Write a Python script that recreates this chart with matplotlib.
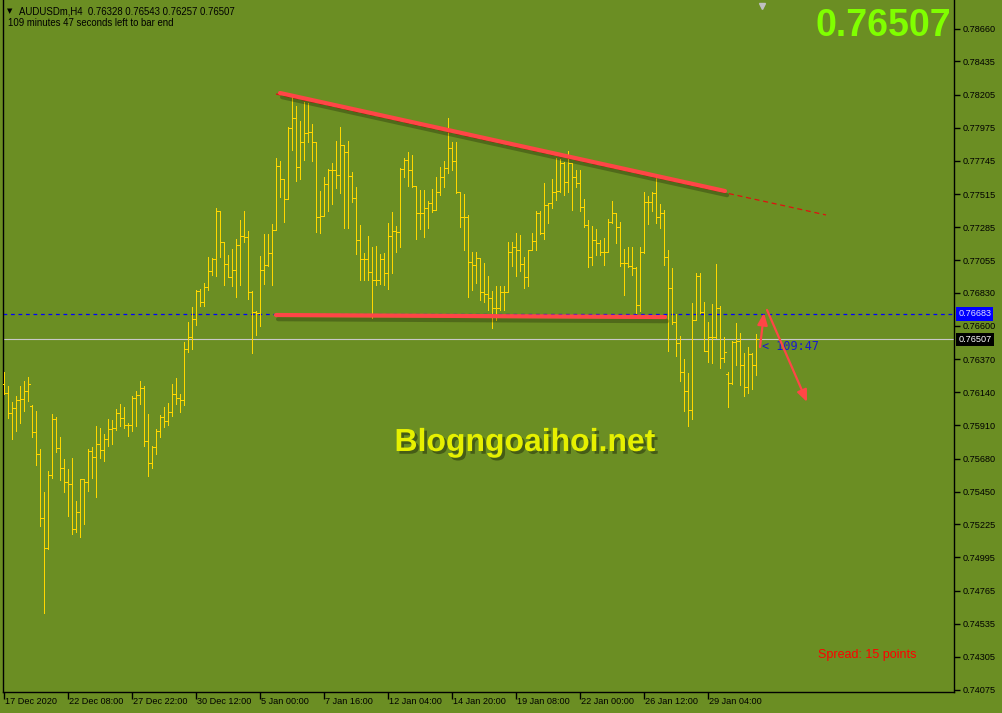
import numpy as np
import matplotlib
matplotlib.use("Agg")
import matplotlib.pyplot as plt
import matplotlib.patheffects as pe
from matplotlib.collections import LineCollection

# ---- data (AUDUSDm, H4) -------------------------------------------------
opens = [
    0.76200, 0.76135, 0.75996, 0.76031, 0.76086, 0.76093, 0.76149, 0.76045, 0.75864, 0.75712,
    0.75268, 0.75060, 0.75566, 0.75955, 0.75753, 0.75615, 0.75518, 0.75504, 0.75192, 0.75310,
    0.75538, 0.75518, 0.75733, 0.75691, 0.75781, 0.75740, 0.75816, 0.75885, 0.75892, 0.75996,
    0.75962, 0.75913, 0.75913, 0.76100, 0.76121, 0.76170, 0.75802, 0.75649, 0.75760, 0.75871,
    0.75969, 0.75941, 0.76003, 0.76128, 0.76100, 0.76086, 0.76440, 0.76523, 0.76648, 0.76843,
    0.76766, 0.76870, 0.76981, 0.77064, 0.77397, 0.77182, 0.77030, 0.76940, 0.76988, 0.77162,
    0.77224, 0.77217, 0.76836, 0.76697, 0.76690, 0.76988, 0.77023, 0.77106, 0.77266, 0.77710,
    0.77619, 0.77481, 0.77973, 0.78043, 0.77703, 0.77876, 0.77938, 0.77945, 0.77876, 0.77356,
    0.77363, 0.77585, 0.77682, 0.77682, 0.77647, 0.77855, 0.77807, 0.77640, 0.77488, 0.77196,
    0.77064, 0.77064, 0.76974, 0.76919, 0.76919, 0.77064, 0.76967, 0.77224, 0.77259, 0.77252,
    0.77689, 0.77751, 0.77682, 0.77571, 0.77384, 0.77384, 0.77418, 0.77453, 0.77404, 0.77529,
    0.77633, 0.77696, 0.77834, 0.77744, 0.77530, 0.77356, 0.77356, 0.77044, 0.77023, 0.77071,
    0.76836, 0.76822, 0.76794, 0.76725, 0.76725, 0.76836, 0.76836, 0.77113, 0.77148, 0.77127,
    0.77030, 0.76940, 0.77127, 0.77189, 0.77384, 0.77245, 0.77439, 0.77453, 0.77529, 0.77536,
    0.77730, 0.77599, 0.77730, 0.77633, 0.77592, 0.77425, 0.77300, 0.77078, 0.77196, 0.77175,
    0.77113, 0.77113, 0.77321, 0.77384, 0.77286, 0.77037, 0.77037, 0.77016, 0.77002, 0.76745,
    0.77113, 0.77460, 0.77460, 0.77522, 0.77356, 0.77384, 0.77078, 0.76863, 0.76627, 0.76482,
    0.76281, 0.76149, 0.76017, 0.76641, 0.76947, 0.76697, 0.76426, 0.76523, 0.76523, 0.76725,
    0.76378, 0.76270, 0.76204, 0.76489, 0.76496, 0.76329, 0.76177, 0.76405, 0.76328,
]
highs = [
    0.76281, 0.76184, 0.76073, 0.76114, 0.76184, 0.76218, 0.76246, 0.76052, 0.76010, 0.75747,
    0.75448, 0.75594, 0.75989, 0.75969, 0.75830, 0.75677, 0.75608, 0.75684, 0.75386, 0.75538,
    0.75538, 0.75747, 0.75760, 0.75906, 0.75892, 0.75851, 0.75955, 0.75948, 0.76024, 0.76059,
    0.76038, 0.75927, 0.76114, 0.76149, 0.76218, 0.76184, 0.75989, 0.75767, 0.75885, 0.75982,
    0.76038, 0.76066, 0.76197, 0.76239, 0.76128, 0.76489, 0.76627, 0.76732, 0.76849, 0.76856,
    0.76898, 0.77078, 0.77071, 0.77418, 0.77397, 0.77182, 0.77092, 0.77134, 0.77203, 0.77335,
    0.77397, 0.77259, 0.76843, 0.76704, 0.77085, 0.77238, 0.77238, 0.77307, 0.77765, 0.77744,
    0.77619, 0.77980, 0.78188, 0.78126, 0.78022, 0.78154, 0.78147, 0.78001, 0.77876, 0.77536,
    0.77633, 0.77689, 0.77730, 0.77883, 0.77980, 0.77855, 0.77883, 0.77668, 0.77564, 0.77300,
    0.77106, 0.77224, 0.77148, 0.77155, 0.77099, 0.77106, 0.77314, 0.77390, 0.77293, 0.77696,
    0.77765, 0.77807, 0.77786, 0.77571, 0.77543, 0.77543, 0.77467, 0.77550, 0.77633, 0.77703,
    0.77744, 0.78043, 0.77876, 0.77876, 0.77530, 0.77515, 0.77370, 0.77113, 0.77113, 0.77071,
    0.77037, 0.76947, 0.76843, 0.76877, 0.76877, 0.76877, 0.77182, 0.77182, 0.77245, 0.77231,
    0.77078, 0.77127, 0.77245, 0.77397, 0.77397, 0.77592, 0.77453, 0.77619, 0.77765, 0.77758,
    0.77737, 0.77814, 0.77730, 0.77682, 0.77682, 0.77481, 0.77335, 0.77293, 0.77273, 0.77196,
    0.77210, 0.77342, 0.77467, 0.77384, 0.77321, 0.77134, 0.77148, 0.77148, 0.77009, 0.77148,
    0.77529, 0.77501, 0.77529, 0.77633, 0.77446, 0.77404, 0.77127, 0.77002, 0.76683, 0.76530,
    0.76371, 0.76274, 0.76759, 0.76967, 0.76967, 0.76766, 0.76627, 0.76752, 0.77030, 0.76738,
    0.76523, 0.76281, 0.76496, 0.76621, 0.76551, 0.76412, 0.76454, 0.76412, 0.76543,
]
lows = [
    0.76128, 0.75962, 0.75816, 0.75871, 0.75927, 0.76010, 0.76080, 0.75830, 0.75636, 0.75212,
    0.74609, 0.75053, 0.75545, 0.75726, 0.75532, 0.75448, 0.75282, 0.75157, 0.75171, 0.75136,
    0.75226, 0.75455, 0.75545, 0.75414, 0.75684, 0.75663, 0.75767, 0.75781, 0.75878, 0.75906,
    0.75892, 0.75837, 0.75871, 0.75906, 0.76059, 0.75767, 0.75559, 0.75615, 0.75712, 0.75830,
    0.75899, 0.75913, 0.75975, 0.76059, 0.76003, 0.76052, 0.76419, 0.76440, 0.76607, 0.76738,
    0.76738, 0.76849, 0.76954, 0.76947, 0.77078, 0.76884, 0.76940, 0.76877, 0.76801, 0.76884,
    0.77182, 0.76787, 0.76412, 0.76537, 0.76600, 0.76891, 0.77016, 0.76884, 0.77266, 0.77495,
    0.77321, 0.77481, 0.77821, 0.77606, 0.77619, 0.77751, 0.77876, 0.77744, 0.77252, 0.77245,
    0.77363, 0.77397, 0.77446, 0.77557, 0.77522, 0.77280, 0.77280, 0.77460, 0.77099, 0.76919,
    0.76919, 0.76919, 0.76655, 0.76884, 0.76891, 0.76884, 0.76856, 0.76967, 0.77113, 0.77148,
    0.77633, 0.77571, 0.77564, 0.77203, 0.77273, 0.77217, 0.77280, 0.77390, 0.77404, 0.77508,
    0.77564, 0.77661, 0.77682, 0.77522, 0.77286, 0.77127, 0.76801, 0.76849, 0.76898, 0.76780,
    0.76766, 0.76711, 0.76586, 0.76641, 0.76711, 0.76711, 0.76836, 0.77016, 0.76947, 0.76981,
    0.76863, 0.76877, 0.77127, 0.77127, 0.77238, 0.77203, 0.77314, 0.77418, 0.77474, 0.77529,
    0.77508, 0.77529, 0.77404, 0.77564, 0.77397, 0.77286, 0.77009, 0.77023, 0.77092, 0.77092,
    0.77023, 0.77113, 0.77314, 0.77175, 0.77016, 0.76815, 0.77009, 0.76954, 0.76690, 0.76704,
    0.77106, 0.77307, 0.77397, 0.77314, 0.77280, 0.77023, 0.76426, 0.76614, 0.76392, 0.76218,
    0.76010, 0.75906, 0.75955, 0.76641, 0.76690, 0.76426, 0.76350, 0.76343, 0.76517, 0.76308,
    0.76350, 0.76038, 0.76197, 0.76329, 0.76190, 0.76114, 0.76135, 0.76163, 0.76257,
]
closes = [
    0.76135, 0.75996, 0.76031, 0.76086, 0.76093, 0.76149, 0.76197, 0.75864, 0.75712, 0.75268,
    0.75060, 0.75566, 0.75955, 0.75753, 0.75615, 0.75518, 0.75504, 0.75192, 0.75310, 0.75538,
    0.75518, 0.75733, 0.75691, 0.75781, 0.75740, 0.75816, 0.75885, 0.75892, 0.75996, 0.75962,
    0.75913, 0.75913, 0.76100, 0.76121, 0.76170, 0.75802, 0.75649, 0.75760, 0.75871, 0.75969,
    0.75941, 0.76003, 0.76128, 0.76100, 0.76086, 0.76440, 0.76523, 0.76648, 0.76843, 0.76766,
    0.76870, 0.76981, 0.77064, 0.77397, 0.77182, 0.77030, 0.76940, 0.76988, 0.77162, 0.77224,
    0.77217, 0.76836, 0.76697, 0.76690, 0.76988, 0.77023, 0.77106, 0.77266, 0.77710, 0.77619,
    0.77481, 0.77973, 0.78043, 0.77703, 0.77876, 0.77938, 0.77945, 0.77876, 0.77356, 0.77363,
    0.77585, 0.77682, 0.77682, 0.77647, 0.77855, 0.77807, 0.77640, 0.77488, 0.77196, 0.77064,
    0.77064, 0.76974, 0.76919, 0.76919, 0.77064, 0.76967, 0.77224, 0.77259, 0.77252, 0.77689,
    0.77751, 0.77682, 0.77571, 0.77384, 0.77384, 0.77418, 0.77453, 0.77404, 0.77529, 0.77633,
    0.77696, 0.77834, 0.77744, 0.77530, 0.77356, 0.77356, 0.77044, 0.77023, 0.77071, 0.76836,
    0.76822, 0.76794, 0.76725, 0.76725, 0.76836, 0.76836, 0.77113, 0.77148, 0.77127, 0.77030,
    0.76940, 0.77127, 0.77189, 0.77384, 0.77245, 0.77439, 0.77453, 0.77529, 0.77536, 0.77730,
    0.77599, 0.77730, 0.77633, 0.77592, 0.77425, 0.77300, 0.77078, 0.77196, 0.77175, 0.77113,
    0.77113, 0.77321, 0.77384, 0.77286, 0.77037, 0.77037, 0.77016, 0.77002, 0.76745, 0.77113,
    0.77460, 0.77460, 0.77522, 0.77356, 0.77384, 0.77078, 0.76863, 0.76627, 0.76482, 0.76281,
    0.76149, 0.76017, 0.76641, 0.76947, 0.76697, 0.76426, 0.76523, 0.76523, 0.76725, 0.76378,
    0.76419, 0.76204, 0.76489, 0.76496, 0.76329, 0.76177, 0.76405, 0.76328, 0.76507,
]

price_ticks = [0.78660, 0.78435, 0.78205, 0.77975, 0.77745, 0.77515, 0.77285, 0.77055,
               0.76830, 0.76600, 0.76370, 0.76140, 0.75910, 0.75680, 0.75450, 0.75225,
               0.74995, 0.74765, 0.74535, 0.74305, 0.74075]
date_tick_bars = [0, 16, 32, 48, 64, 80, 96, 112, 128, 144, 160, 176]
date_labels = ["17 Dec 2020", "22 Dec 08:00", "27 Dec 22:00", "30 Dec 12:00",
               "5 Jan 00:00", "7 Jan 16:00", "12 Jan 04:00", "14 Jan 20:00",
               "19 Jan 08:00", "22 Jan 00:00", "26 Jan 12:00", "29 Jan 04:00"]

bid = 0.76507
alert = 0.76683
# hand-drawn objects: (bar, price) end points
upper_trend = [(69, 0.78216), (180.25, 0.77536)]
upper_ray = [(68, 0.78209), (205.5, 0.77370)]
lower_trend = [(68, 0.76676), (165.25, 0.76662)]
arrow_up = [(189, 0.76454), (190, 0.76690)]
arrow_down = [(190.75, 0.76711), (200.75, 0.76073)]

# ---- figure --------------------------------------------------------------
BG = "#6B8E23"
FONT = "Liberation Sans"
W, H = 1002, 713
fig = plt.figure(figsize=(W / 100, H / 100), dpi=100, facecolor=BG)
ax = fig.add_axes([3 / W, 21 / H, 951 / W, 692 / H])
ax.set_facecolor(BG)
ax.set_xlim(-0.25, 237.5)
ax.set_ylim(0.74061, 0.78861)

x = np.arange(len(closes))
segs = []
for i, o, h, l, c in zip(x, opens, highs, lows, closes):
    segs.append([(i, l), (i, h)])
    segs.append([(i - 0.5, o), (i, o)])
    segs.append([(i, c), (i + 0.5, c)])
ax.add_collection(LineCollection(segs, colors="#FFD700", linewidths=0.72,
                                 antialiaseds=False, zorder=3))

ax.axhline(alert, color="#0000FF", lw=0.9, ls=(0, (3, 3)), zorder=2)
ax.axhline(bid, color="#C8C8C8", lw=0.8, zorder=2)

shadow = [pe.SimpleLineShadow(offset=(1.5, -3), shadow_color="k", alpha=0.25), pe.Normal()]
xs, ys = zip(*upper_ray)
ax.plot(xs, ys, color="#E01010", lw=0.9, ls=(0, (4, 3)), zorder=4)
for line in (upper_trend, lower_trend):
    xs, ys = zip(*line)
    ax.plot(xs, ys, color="#FF4646", lw=3.0, solid_capstyle="round",
            path_effects=shadow, zorder=5)
for a in (arrow_up, arrow_down):
    ax.annotate("", xy=a[1], xytext=a[0],
                arrowprops=dict(arrowstyle="-|>,head_length=0.7,head_width=0.3",
                                color="#FF4646", lw=1.6, shrinkA=0, shrinkB=0),
                zorder=6)

ax.text(189.6, 0.76461, "< 109:47", color="#1A1ACD", fontsize=8.5,
        family="DejaVu Sans Mono", va="center", ha="left", zorder=5)

# axes styling
ax.spines["top"].set_visible(False)
for s in ("left", "right", "bottom"):
    ax.spines[s].set_color("black")
    ax.spines[s].set_linewidth(1.0)
ax.yaxis.tick_right()
ax.set_yticks(price_ticks)
ax.set_yticklabels([f"{p:.5f}" for p in price_ticks], fontsize=6.6, family=FONT)
ax.tick_params(axis="y", direction="out", length=4, width=1, pad=2.5, colors="black")
ax.set_xticks(date_tick_bars)
ax.set_xticklabels([])
ax.tick_params(axis="x", direction="out", length=5, width=1, colors="black")
for b, lab in zip(date_tick_bars, date_labels):
    ax.text(b + 0.2, -0.0135, lab, transform=ax.get_xaxis_transform(),
            fontsize=6.6, family=FONT, ha="left", va="center", color="black")

# price tags on the scale
ax.text(1.0045, alert, f"{alert:.5f}", transform=ax.get_yaxis_transform(),
        fontsize=6.6, family=FONT, color="#E0E0FF", ha="left", va="center",
        bbox=dict(boxstyle="square,pad=0.22", fc="#0000FF", ec="none"), clip_on=False)
ax.text(1.0045, bid, f"{bid:.5f}", transform=ax.get_yaxis_transform(),
        fontsize=6.6, family=FONT, color="white", ha="left", va="center",
        bbox=dict(boxstyle="square,pad=0.22", fc="black", ec="none"), clip_on=False)

# shift marker at top
ax.plot([189.5], [0.78820], marker="v", ms=5, color="#C0C0C0", clip_on=False, zorder=6)

# header texts
fig.text(7 / W, 1 - 11 / H, "▼", fontsize=5, family="DejaVu Sans", va="center", color="black")
fig.text(19 / W, 1 - 11 / H, "AUDUSDm,H4  0.76328 0.76543 0.76257 0.76507",
         fontsize=6.9, family=FONT, va="center", color="black")
fig.text(8 / W, 1 - 23 / H, "109 minutes 47 seconds left to bar end",
         fontsize=6.9, family=FONT, va="center", color="black")
fig.text(951 / W, 1 - 26 / H, "0.76507", fontsize=27, fontweight="bold", family=FONT,
         color="#80FF00", ha="right", va="center")

wm = fig.text(525 / W, 1 - 443 / H, "Blogngoaihoi.net", fontsize=23, fontweight="bold",
              family=FONT, color="#E6F000", ha="center", va="center")
wm.set_path_effects([pe.SimplePatchShadow(offset=(2, -2), shadow_rgbFace="k", alpha=0.35),
                     pe.Normal()])

fig.text(818 / W, 1 - 655 / H, "Spread: 15 points", fontsize=9, family=FONT,
         color="#FF0000", ha="left", va="center")

fig.savefig("out.png", dpi=100, facecolor=BG)
